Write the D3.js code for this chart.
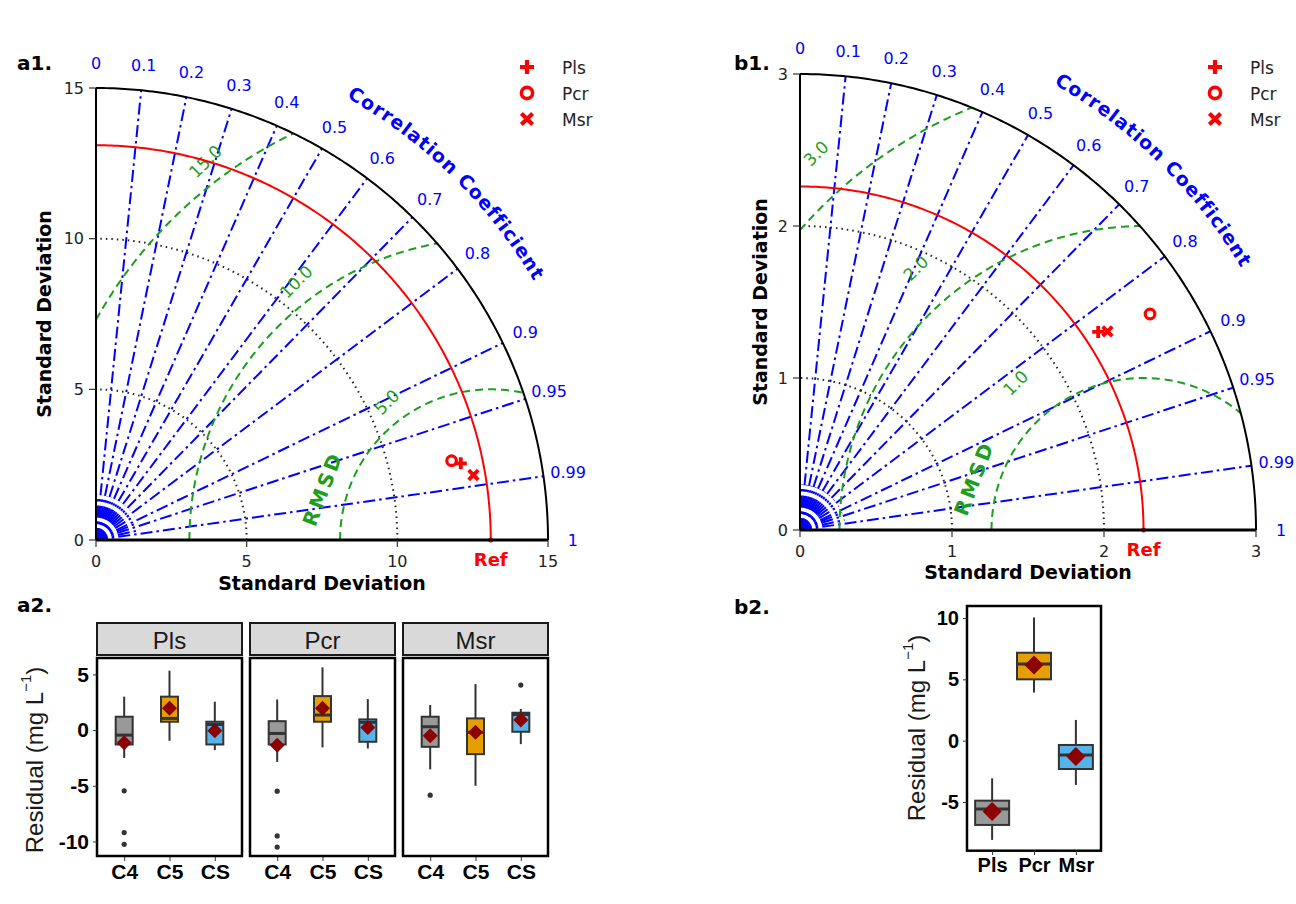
<!DOCTYPE html>
<html>
<head>
<meta charset="utf-8">
<script src="https://cdn.jsdelivr.net/npm/d3@7"></script>
<style>
  body { margin: 0; background: #fff; }
  svg { display: block; }
</style>
</head>
<body>
<div id="chart"></div>
<script>
// ---- Taylor diagrams (a1, b1) ----
const modelNames = ["Pls", "Pcr", "Msr"];
const corrTicks = [0.1, 0.2, 0.3, 0.4, 0.5, 0.6, 0.7, 0.8, 0.9, 0.95, 0.99];
const corrLabels = [0, 0.1, 0.2, 0.3, 0.4, 0.5, 0.6, 0.7, 0.8, 0.9, 0.95, 0.99, 1];
const fineCorr = [0.05, 0.15, 0.25, 0.35, 0.45, 0.55, 0.65, 0.75, 0.85, 0.925, 0.975];

const a1RefStd = 13.1;
const a1Std = [12.37, 12.09, 12.71];
const a1Corr = [0.9786, 0.976, 0.9855];
const a1StdTicks = [0, 5, 10, 15];
const a1RmsTicks = [5, 10, 15];

const b1RefStd = 2.26;
const b1Std = [2.355, 2.706, 2.408];
const b1Corr = [0.833, 0.851, 0.840];
const b1StdTicks = [0, 1, 2, 3];
const b1RmsTicks = [1, 2, 3];

// ---- a2 boxplots: [panel][group] ----
const a2Panels = ["Pls", "Pcr", "Msr"];
const a2Groups = ["C4", "C5", "CS"];
const a2Low    = [[-2.5, -0.96, -1.8], [-2.85, -1.56, -1.65], [-3.53, -5.0, -1.26]];
const a2Q1     = [[-1.29, 0.75, -1.29], [-1.29, 0.75, -1.05], [-1.5, -2.16, -0.15]];
const a2Median = [[-0.45, 1.05, 0.5], [-0.3, 1.35, 0.7], [0.3, -0.2, 1.4]];
const a2Q3     = [[1.2, 3.0, 0.75], [0.8, 3.05, 0.96], [1.2, 1.05, 1.56]];
const a2High   = [[3.0, 5.33, 2.55], [2.75, 5.63, 2.78], [2.25, 4.13, 1.89]];
const a2Mean   = [[-1.14, 1.95, -0.05], [-1.35, 1.95, 0.24], [-0.5, -0.2, 0.9]];
const a2Outliers = [[[-5.45, -9.2, -10.25], [], []], [[-5.48, -9.5, -10.5], [], []], [[-5.84], [], [4.04]]];
const a2YTicks = [-10, -5, 0, 5];

// ---- b2 boxplot ----
const b2Cats   = ["Pls", "Pcr", "Msr"];
const b2Low    = [-8.09, 3.92, -3.61];
const b2Q1     = [-6.87, 5.0, -2.31];
const b2Median = [-5.57, 6.25, -1.17];
const b2Q3     = [-4.89, 7.17, -0.35];
const b2High   = [-3.07, 10.05, 1.69];
const b2Mean   = [-5.78, 6.17, -1.3];
const b2YTicks = [-5, 0, 5, 10];

const boxColors = ["#999999", "#E69F00", "#56B4E9"];

const svg = d3.select('#chart').append('svg')
    .attr('width', 1296).attr('height', 904)
    .style('font-family', 'DejaVu Sans, sans-serif');

const BLUE = "#0000ff", RED = "#ff0000", GREEN = "#1e9e1e";

function drawMarker(g, kind, cx, cy, s, w) {
    if (kind === 0) {
        g.append('path').attr('d', `M${cx - s},${cy}H${cx + s}M${cx},${cy - s}V${cy + s}`)
            .attr('stroke', RED).attr('stroke-width', w).attr('fill', 'none');
    } else if (kind === 1) {
        g.append('circle').attr('cx', cx).attr('cy', cy).attr('r', s * 0.8)
            .attr('stroke', RED).attr('stroke-width', w * 0.85).attr('fill', 'none');
    } else {
        const d = s * 0.8;
        g.append('path').attr('d', `M${cx - d},${cy - d}L${cx + d},${cy + d}M${cx - d},${cy + d}L${cx + d},${cy - d}`)
            .attr('stroke', RED).attr('stroke-width', w).attr('fill', 'none');
    }
}

function drawTaylor(cfg) {
    const { ox, oy, R, max, ref, stds, corrs, stdTicks, rmsTicks, rmsAngle, rmsOffset, title, legendX, xLabelY, yLabelX } = cfg;
    const x = d3.scaleLinear().domain([0, max]).range([ox, ox + R]);
    const y = d3.scaleLinear().domain([0, max]).range([oy, oy - R]);
    const line = d3.line().x(d => x(d[0])).y(d => y(d[1]));
    const polar = (r, t) => [r * Math.cos(t), r * Math.sin(t)];
    const arcPts = (r, a0, a1, n = 200) => d3.range(n + 1).map(i => polar(r, a0 + (a1 - a0) * i / n));
    const g = svg.append('g');

    // fine spokes near the origin
    fineCorr.forEach(c => {
        g.append('path').attr('d', line([[0, 0], polar(max * 0.1, Math.acos(c))]))
            .attr('stroke', BLUE).attr('stroke-width', 2).attr('fill', 'none')
            .attr('stroke-dasharray', '12,4,2.5,4');
    });
    // correlation lines
    corrTicks.forEach(c => {
        g.append('path').attr('d', line([[0, 0], polar(max, Math.acos(c))]))
            .attr('stroke', BLUE).attr('stroke-width', 2).attr('fill', 'none')
            .attr('stroke-dasharray', '12,4,2.5,4');
    });
    // std grid arcs
    stdTicks.filter(s => s > 0 && s < max).forEach(s => {
        g.append('path').attr('d', line(arcPts(s, 0, Math.PI / 2)))
            .attr('stroke', '#222').attr('stroke-width', 2).attr('fill', 'none')
            .attr('stroke-dasharray', '1.5,4');
    });
    // RMSD arcs
    rmsTicks.forEach(r => {
        const a0 = r > ref ? Math.acos(-ref / r) : Math.PI;
        const xi = (ref * ref - r * r + max * max) / (2 * ref);
        const a1 = xi >= ref + r ? 0 : Math.acos((xi - ref) / r);
        const pts = d3.range(201).map(i => {
            const t = a0 + (a1 - a0) * i / 200;
            return [ref + r * Math.cos(t), r * Math.sin(t)];
        });
        g.append('path').attr('d', line(pts))
            .attr('stroke', GREEN).attr('stroke-width', 2).attr('fill', 'none')
            .attr('stroke-dasharray', '8,5');
        const t = rmsAngle * Math.PI / 180;
        const px = x(ref + r * Math.cos(t)) + Math.cos(t) * rmsOffset;
        const py = y(r * Math.sin(t)) - Math.sin(t) * rmsOffset;
        g.append('text').attr('transform', `translate(${px},${py}) rotate(-45)`)
            .attr('text-anchor', 'middle').attr('dominant-baseline', 'central')
            .attr('fill', GREEN).attr('font-size', 17).text(r.toFixed(1));
    });
    // RMSD title
    {
        const t = 163 * Math.PI / 180, r = rmsTicks[0];
        const px = x(ref + r * Math.cos(t)) + Math.cos(t) * 25;
        const py = y(r * Math.sin(t)) - Math.sin(t) * 25;
        g.append('text').attr('transform', `translate(${px},${py}) rotate(-69)`)
            .attr('text-anchor', 'middle').attr('dominant-baseline', 'central')
            .attr('fill', GREEN).attr('font-size', 20).attr('font-weight', 'bold')
            .attr('letter-spacing', 3).text('RMSD');
    }
    // reference arc
    g.append('path').attr('d', line(arcPts(ref, 0, Math.PI / 2)))
        .attr('stroke', RED).attr('stroke-width', 2).attr('fill', 'none');
    g.append('circle').attr('cx', x(ref)).attr('cy', y(0)).attr('r', 2.5).attr('fill', RED);

    // outer arc and axes
    g.append('path').attr('d', line(arcPts(max, 0, Math.PI / 2)))
        .attr('stroke', '#000').attr('stroke-width', 2).attr('fill', 'none');
    g.append('line').attr('x1', x(0)).attr('x2', x(max)).attr('y1', y(0)).attr('y2', y(0))
        .attr('stroke', '#000').attr('stroke-width', 3);
    g.append('line').attr('x1', x(0)).attr('x2', x(0)).attr('y1', y(0)).attr('y2', y(max))
        .attr('stroke', '#000').attr('stroke-width', 2);

    // ticks
    stdTicks.forEach(s => {
        g.append('line').attr('x1', x(s)).attr('x2', x(s)).attr('y1', y(0)).attr('y2', y(0) + 7)
            .attr('stroke', '#333').attr('stroke-width', 1.2);
        g.append('text').attr('x', x(s)).attr('y', y(0) + 21).attr('text-anchor', 'middle')
            .attr('dominant-baseline', 'central').attr('font-size', 16).attr('fill', '#222').text(s);
        g.append('line').attr('x1', x(0) - 7).attr('x2', x(0)).attr('y1', y(s)).attr('y2', y(s))
            .attr('stroke', '#333').attr('stroke-width', 1.2);
        g.append('text').attr('x', x(0) - 12).attr('y', y(s)).attr('text-anchor', 'end')
            .attr('dominant-baseline', 'central').attr('font-size', 16).attr('fill', '#222').text(s);
    });
    g.append('text').attr('x', x(ref)).attr('y', y(0) + 19).attr('text-anchor', 'middle')
        .attr('dominant-baseline', 'central').attr('font-size', 18).attr('font-weight', 'bold')
        .attr('fill', RED).text('Ref');

    // correlation labels
    corrLabels.forEach(c => {
        const [px, py] = polar(max * 1.055, Math.acos(c));
        g.append('text').attr('x', x(px)).attr('y', y(py)).attr('text-anchor', 'middle')
            .attr('dominant-baseline', 'central').attr('font-size', 16).attr('fill', BLUE).text(c);
    });
    // curved title
    const rr = R * 1.125;
    const t0 = 80 * Math.PI / 180, t1 = 11 * Math.PI / 180;
    const id = 'cc' + title.replace('.', '');
    svg.append('defs').append('path').attr('id', id)
        .attr('d', `M${ox + rr * Math.cos(t0)},${oy - rr * Math.sin(t0)} A${rr},${rr} 0 0 1 ${ox + rr * Math.cos(t1)},${oy - rr * Math.sin(t1)}`);
    g.append('text').attr('font-size', 19).attr('font-weight', 'bold').attr('fill', BLUE)
        .attr('letter-spacing', 1)
        .append('textPath').attr('href', '#' + id).attr('startOffset', '50%')
        .attr('text-anchor', 'middle').text('Correlation Coefficient');

    // axis titles
    g.append('text').attr('x', x(max / 2)).attr('y', xLabelY).attr('text-anchor', 'middle')
        .attr('dominant-baseline', 'central').attr('font-size', 19).attr('font-weight', 'bold')
        .text('Standard Deviation');
    g.append('text').attr('transform', `translate(${yLabelX},${y(max / 2)}) rotate(-90)`)
        .attr('text-anchor', 'middle').attr('dominant-baseline', 'central')
        .attr('font-size', 19).attr('font-weight', 'bold').text('Standard Deviation');

    // model points
    stds.forEach((s, i) => {
        const [px, py] = polar(s, Math.acos(corrs[i]));
        drawMarker(g, i, x(px), y(py), 6, 3.8);
    });

    // legend
    modelNames.forEach((m, i) => {
        drawMarker(g, i, legendX, 67 + i * 26, 7, 4.2);
        g.append('text').attr('x', legendX + 35).attr('y', 68 + i * 26)
            .attr('dominant-baseline', 'central').attr('font-size', 17).attr('fill', '#222').text(m);
    });
    svg.append('text').attr('x', cfg.titleX).attr('y', 70).attr('font-size', 20)
        .attr('font-weight', 'bold').text(title);
}

drawTaylor({ ox: 96, oy: 540, R: 452, max: 15, ref: a1RefStd, stds: a1Std, corrs: a1Corr,
    stdTicks: a1StdTicks, rmsTicks: a1RmsTicks, rmsAngle: 127, rmsOffset: 22,
    title: 'a1.', titleX: 17, legendX: 527, xLabelY: 583, yLabelX: 44 });
drawTaylor({ ox: 800, oy: 530, R: 456, max: 3, ref: b1RefStd, stds: b1Std, corrs: b1Corr,
    stdTicks: b1StdTicks, rmsTicks: b1RmsTicks, rmsAngle: 131, rmsOffset: 43,
    title: 'b1.', titleX: 734, legendX: 1215, xLabelY: 572, yLabelX: 760 });

// ---- boxplots ----
const boxFont = 'Liberation Sans, Arial, sans-serif';

function drawBox(g, xc, y, bw, st, fill) {
    const dark = '#333';
    g.append('line').attr('x1', xc).attr('x2', xc).attr('y1', y(st.high)).attr('y2', y(st.q3))
        .attr('stroke', dark).attr('stroke-width', 2);
    g.append('line').attr('x1', xc).attr('x2', xc).attr('y1', y(st.q1)).attr('y2', y(st.low))
        .attr('stroke', dark).attr('stroke-width', 2);
    g.append('rect').attr('x', xc - bw / 2).attr('width', bw).attr('y', y(st.q3))
        .attr('height', y(st.q1) - y(st.q3)).attr('fill', fill)
        .attr('stroke', dark).attr('stroke-width', 2);
    g.append('line').attr('x1', xc - bw / 2).attr('x2', xc + bw / 2)
        .attr('y1', y(st.median)).attr('y2', y(st.median)).attr('stroke', dark).attr('stroke-width', 3);
    (st.out || []).forEach(o => {
        g.append('circle').attr('cx', xc).attr('cy', y(o)).attr('r', 2.6).attr('fill', dark);
    });
    const d = st.ds;
    g.append('path').attr('d', `M${xc},${y(st.mean) - d}L${xc + d},${y(st.mean)}L${xc},${y(st.mean) + d}L${xc - d},${y(st.mean)}Z`)
        .attr('fill', '#8B0000');
}

function residualTitle(g, cx, cy) {
    const t = g.append('text').attr('transform', `translate(${cx},${cy}) rotate(-90)`)
        .attr('text-anchor', 'middle').attr('dominant-baseline', 'central')
        .attr('font-family', boxFont).attr('font-size', 24).attr('fill', '#1a1a1a');
    t.append('tspan').text('Residual (mg L');
    t.append('tspan').attr('font-size', 15).attr('dy', -9).text('\u22121');
    t.append('tspan').attr('dy', 9).text(')');
}

function styleAxis(a, size) {
    a.select('.domain').remove();
    a.selectAll('line').attr('stroke', '#333');
    a.selectAll('text').attr('font-family', boxFont).attr('font-size', size)
        .attr('font-weight', 'bold').attr('fill', '#000');
}

// a2
{
    const g = svg.append('g').attr('font-family', boxFont);
    const y = d3.scaleLinear().domain([-11.3, 6.47]).range([856, 658]);
    const panelX = [97, 250, 403], pw = 145;
    a2Panels.forEach((p, pi) => {
        const x = d3.scalePoint().domain(a2Groups).range([panelX[pi], panelX[pi] + pw]).padding(0.6);
        g.append('rect').attr('x', panelX[pi]).attr('y', 623).attr('width', pw).attr('height', 32)
            .attr('fill', '#d9d9d9').attr('stroke', '#1a1a1a').attr('stroke-width', 2);
        g.append('text').attr('x', panelX[pi] + pw / 2).attr('y', 640).attr('text-anchor', 'middle')
            .attr('dominant-baseline', 'central').attr('font-size', 24).attr('fill', '#1a1a1a').text(p);
        a2Groups.forEach((c, ci) => {
            drawBox(g, x(c), y, 17, {
                low: a2Low[pi][ci], q1: a2Q1[pi][ci], median: a2Median[pi][ci], q3: a2Q3[pi][ci],
                high: a2High[pi][ci], mean: a2Mean[pi][ci], out: a2Outliers[pi][ci], ds: 7.5
            }, boxColors[ci]);
        });
        g.append('rect').attr('x', panelX[pi]).attr('y', 658).attr('width', pw).attr('height', 198)
            .attr('fill', 'none').attr('stroke', '#000').attr('stroke-width', 2.5);
        const xa = g.append('g').attr('transform', 'translate(0,857)')
            .call(d3.axisBottom(x).tickSize(4).tickPadding(3));
        styleAxis(xa, 21);
    });
    const ya = g.append('g').attr('transform', `translate(${panelX[0]},0)`)
        .call(d3.axisLeft(y).tickValues(a2YTicks).tickFormat(d => String(d)).tickSize(4).tickPadding(4));
    styleAxis(ya, 21);
    residualTitle(g, 34, 760);
    svg.append('text').attr('x', 17).attr('y', 612).attr('font-size', 20)
        .attr('font-weight', 'bold').text('a2.');
}

// b2
{
    const g = svg.append('g').attr('font-family', boxFont);
    const y = d3.scaleLinear().domain([-8.97, 10.98]).range([850.7, 606]);
    const x = d3.scalePoint().domain(b2Cats).range([967, 1101]).padding(0.6);
    b2Cats.forEach((c, i) => {
        drawBox(g, x(c), y, 34, {
            low: b2Low[i], q1: b2Q1[i], median: b2Median[i], q3: b2Q3[i],
            high: b2High[i], mean: b2Mean[i], out: [], ds: 9.5
        }, boxColors[i]);
    });
    g.append('rect').attr('x', 967).attr('y', 606).attr('width', 134).attr('height', 244.7)
        .attr('fill', 'none').attr('stroke', '#000').attr('stroke-width', 2.5);
    const xa = g.append('g').attr('transform', 'translate(0,851)')
        .call(d3.axisBottom(x).tickSize(4).tickPadding(3));
    styleAxis(xa, 20);
    const ya = g.append('g').attr('transform', 'translate(967,0)')
        .call(d3.axisLeft(y).tickValues(b2YTicks).tickFormat(d => String(d)).tickSize(4).tickPadding(4));
    styleAxis(ya, 20);
    residualTitle(g, 916, 728);
    svg.append('text').attr('x', 734).attr('y', 614).attr('font-size', 20)
        .attr('font-weight', 'bold').text('b2.');
}
</script>
</body>
</html>
